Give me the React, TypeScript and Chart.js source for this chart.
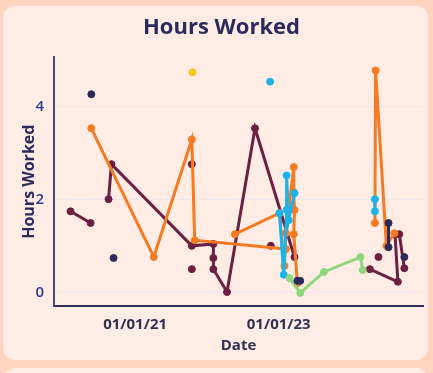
import React, { useEffect, useRef } from 'react';
import { Chart, registerables } from 'chart.js';

Chart.register(...registerables);

// ---- data (x = decimal year, y = hours worked) ----
const xTickYears = [2021, 2023];
const yTickValues = [0, 2, 4];

const maroonLines: [number, number][][] = [
  [[2020.10, 1.75], [2020.38, 1.50]],
  [[2020.63, 2.01], [2020.67, 2.76], [2021.79, 1.01], [2022.09, 1.05], [2022.09, 0.75], [2022.09, 0.51], [2022.28, 0.02], [2022.67, 3.53], [2023.22, 0.77]],
  [[2024.27, 0.51], [2024.66, 0.24], [2024.62, 1.26], [2024.68, 1.26], [2024.75, 0.53]],
];
const maroonDots: [number, number][] = [[2021.79, 2.76], [2021.79, 0.51], [2022.89, 1.01], [2024.39, 0.77]];

const orangeLines: [number, number][][] = [
  [[2020.39, 3.53], [2021.26, 0.77], [2021.79, 3.29], [2021.83, 1.13], [2023.10, 0.94]],
  [[2022.39, 1.26], [2023.01, 1.71], [2023.08, 0.58], [2023.10, 1.28], [2023.21, 2.70], [2023.21, 2.16], [2023.22, 1.78], [2023.21, 1.26], [2023.26, 0.21]],
  [[2024.34, 1.50], [2024.35, 4.77], [2024.50, 1.01], [2024.61, 1.28]],
];

const blueLines: [number, number][][] = [
  [[2023.01, 1.71], [2023.07, 0.39], [2023.11, 1.78], [2023.11, 2.52], [2023.14, 1.56], [2023.22, 2.14]],
  [[2024.34, 2.01], [2024.34, 1.75]],
];
const blueDots: [number, number][] = [[2022.88, 4.53]];

const navyLines: [number, number][][] = [
  [[2023.26, 0.26], [2023.30, 0.26]],
  [[2024.53, 1.50], [2024.53, 0.98]],
];
const navyDots: [number, number][] = [[2020.39, 4.26], [2020.70, 0.75], [2024.75, 0.77]];

const greenLines: [number, number][][] = [
  [[2023.15, 0.32], [2023.30, 0.0], [2023.63, 0.45], [2024.14, 0.77], [2024.17, 0.49]],
];

const yellowDots: [number, number][] = [[2021.80, 4.73]];

// ---- styles ----
const PAGE_BG = '#FFD4BF';
const CARD_BG = '#FFEDE5';
const NAVY = '#2a2a5c';
const MAROON = '#6b1f42';
const ORANGE = '#f57a22';
const BLUE = '#1cb2ea';
const GREEN = '#8fd67c';
const YELLOW = '#f4c81e';
const FONT = '"Open Sans", Lato, sans-serif';

function toPts(arr: [number, number][]) {
  return arr.map(([x, y]) => ({ x, y }));
}

function lineSet(arr: [number, number][], color: string, order: number) {
  return {
    data: toPts(arr),
    borderColor: color,
    backgroundColor: color,
    pointBackgroundColor: color,
    pointBorderColor: color,
    borderWidth: 3,
    pointRadius: 3.5,
    pointBorderWidth: 1,
    showLine: true,
    fill: false,
    tension: 0,
    order,
  };
}

function dotSet(arr: [number, number][], color: string, order: number) {
  return { ...lineSet(arr, color, order), showLine: false };
}

export default function App() {
  const ref = useRef<HTMLCanvasElement>(null);

  useEffect(() => {
    document.body.style.margin = '0';
    document.body.style.background = PAGE_BG;
    const datasets: any[] = [];
    maroonLines.forEach((s) => datasets.push(lineSet(s, MAROON, 5)));
    datasets.push(dotSet(maroonDots, MAROON, 5));
    orangeLines.forEach((s) => datasets.push(lineSet(s, ORANGE, 4)));
    blueLines.forEach((s) => datasets.push(lineSet(s, BLUE, 3)));
    datasets.push(dotSet(blueDots, BLUE, 3));
    greenLines.forEach((s) => datasets.push(lineSet(s, GREEN, 2)));
    navyLines.forEach((s) => datasets.push(lineSet(s, NAVY, 1)));
    datasets.push(dotSet(navyDots, NAVY, 1));
    datasets.push(dotSet(yellowDots, YELLOW, 1));

    const chart = new Chart(ref.current!, {
      type: 'line',
      data: { datasets },
      options: {
        responsive: false,
        animation: false,
        layout: { padding: { left: 13, right: 1, top: 0, bottom: 0 } },
        plugins: {
          legend: { display: false },
          tooltip: { enabled: false },
          title: {
            display: true,
            text: 'Hours Worked',
            color: NAVY,
            font: { family: FONT, size: 22, weight: 'bold' },
            padding: { top: 9, bottom: 16 },
          },
        },
        scales: {
          x: {
            type: 'linear',
            min: 2019.87,
            max: 2025.01,
            afterBuildTicks: (scale: any) => {
              scale.ticks = xTickYears.map((v) => ({ value: v }));
            },
            afterFit: (scale: any) => {
              scale.height = 54;
            },
            ticks: {
              color: '#303052',
              font: { family: FONT, size: 15, weight: 'bold' },
              padding: 10,
              maxRotation: 0,
              callback: (v: any) => '01/01/' + String(v).slice(2, 4),
            },
            grid: { display: false, drawTicks: false },
            border: { display: true, color: '#2f2f5c', width: 2 },
            title: {
              display: true,
              text: 'Date',
              color: '#303052',
              font: { family: FONT, size: 15, weight: 'bold' },
              padding: { top: 0, bottom: 5 },
            },
          },
          y: {
            min: -0.28,
            max: 5.05,
            afterBuildTicks: (scale: any) => {
              scale.ticks = yTickValues.map((v) => ({ value: v }));
            },
            afterFit: (scale: any) => {
              scale.width = 38;
            },
            ticks: {
              color: '#2d3a8c',
              font: { family: FONT, size: 15, weight: '600' },
              padding: 10,
            },
            grid: { color: '#ECE8EC', lineWidth: 1, drawTicks: false },
            border: { display: true, color: '#4a4a72', width: 2 },
            title: {
              display: true,
              text: 'Hours Worked',
              color: NAVY,
              font: { family: FONT, size: 16, weight: 'bold' },
              padding: { top: 4, bottom: 0 },
            },
          },
        },
      } as any,
    });
    return () => chart.destroy();
  }, []);

  return (
    <div style={{ position: 'relative', width: 433, height: 373, background: PAGE_BG, overflow: 'hidden' }}>
      <div style={{ position: 'absolute', left: 3, top: 6, width: 425, height: 354, background: CARD_BG, borderRadius: 12 }}>
        <canvas ref={ref} width={425} height={354} style={{ display: 'block' }} />
      </div>
      <div style={{ position: 'absolute', left: 3, top: 368, width: 425, height: 30, background: CARD_BG, borderRadius: 12 }} />
    </div>
  );
}
